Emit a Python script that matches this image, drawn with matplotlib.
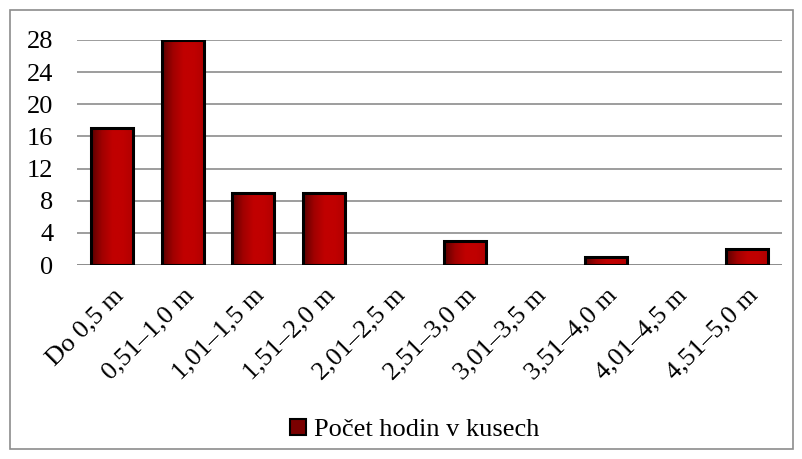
import matplotlib.pyplot as plt
import numpy as np
from matplotlib.patches import Rectangle
from matplotlib.colors import LinearSegmentedColormap

categories = ["Do 0,5 m", "0,51–1,0 m", "1,01–1,5 m", "1,51–2,0 m", "2,01–2,5 m",
              "2,51–3,0 m", "3,01–3,5 m", "3,51–4,0 m", "4,01–4,5 m", "4,51–5,0 m"]
values = [17, 28, 9, 9, 0, 3, 0, 1, 0, 2]
yticks = [0, 4, 8, 12, 16, 20, 24, 28]
series_name = "Počet hodin v kusech"

plt.rcParams['font.family'] = ['Liberation Serif', 'DejaVu Serif']

fig = plt.figure(figsize=(8.03, 4.59), dpi=100)
ax = fig.add_axes([77/803, 1-265/459, 705/803, 225/459])

x = np.arange(len(categories))
width = 0.6
bars = ax.bar(x, values, width=width, color='#C00000', linewidth=0, zorder=3)

# gradient: dark left edge fading into red
cmap = LinearSegmentedColormap.from_list('g', ['#5a0000', '#a00000', '#C00000', '#C00000', '#b00000'])
grad = np.linspace(0, 1, 64).reshape(1, -1)
for b in bars:
    if b.get_height() <= 0:
        continue
    im = ax.imshow(grad, cmap=cmap, aspect='auto', zorder=3.5,
                   extent=[b.get_x(), b.get_x() + b.get_width(), 0, b.get_height()])
    im.set_clip_path(b)
    ax.add_patch(Rectangle((b.get_x(), 0), b.get_width(), b.get_height(), fill=False,
                           edgecolor='black', linewidth=2.2, zorder=4))

ax.set_xlim(-0.5, len(categories) - 0.5)
ax.set_ylim(0, 28)
ax.set_yticks(yticks)
ax.set_xticks(x)
ax.set_xticklabels(categories, rotation=45, ha='right', rotation_mode='anchor', fontsize=19)
ax.tick_params(axis='y', labelsize=19, length=0, pad=17)
ax.tick_params(axis='x', length=0, pad=14)
ax.grid(axis='y', color='#8c8c8c', linewidth=1.2, zorder=0)
for s in ax.spines.values():
    s.set_visible(False)
ax.axhline(0, color='#8c8c8c', linewidth=1.2, zorder=2)

handle = Rectangle((0, 0), 1, 1, facecolor='#7a0000', edgecolor='black', linewidth=1.5)
fig.legend([handle], [series_name], loc='center', bbox_to_anchor=(415/803, 1-430/459),
           frameon=False, fontsize=19, handlelength=0.6, handleheight=0.6, handletextpad=0.3)

fig.patches.append(Rectangle((10/803, 10/459), 783/803, 439/459, transform=fig.transFigure,
                             fill=False, edgecolor='#8c8c8c', linewidth=1.2))

fig.savefig('out.png', dpi=100)
